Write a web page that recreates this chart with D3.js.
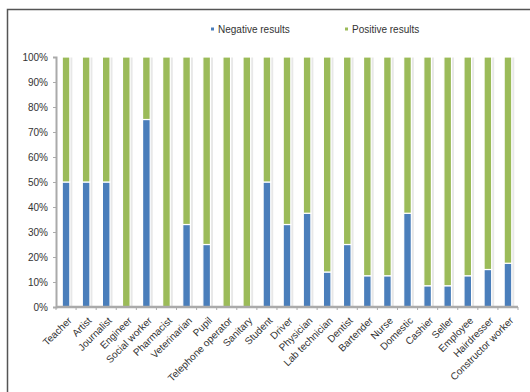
<!DOCTYPE html>
<html><head><meta charset="utf-8">
<script src="https://cdn.jsdelivr.net/npm/d3@7"></script>
<style>body{margin:0;background:#fff}svg{display:block;font-family:"Liberation Sans",Arial,sans-serif}</style>
</head><body><svg id="c" width="530" height="392"></svg>
<script>
const categories = ["Teacher","Artist","Journalist","Engineer","Social worker","Pharmacist","Veterinarian","Pupil","Telephone operator","Sanitary","Student","Driver","Physician","Lab technician","Dentist","Bartender","Nurse","Domestic","Cashier","Seller","Employee","Hairdresser","Constructor worker"];
const negative = [50,50,50,0,75,0,33,25,0,0,50,33,37.5,14,25,12.5,12.5,37.5,8.5,8.5,12.5,15,17.5];
const positive = negative.map(v => 100 - v);
const yTicks = [0,10,20,30,40,50,60,70,80,90,100];
const seriesNames = ["Negative results","Positive results"];
const colors = ["#4a7ebb","#9bbb59"];

const svg = d3.select("#c");
// frame
svg.append("path").attr("d","M7.5,392 V9.5 H530").attr("fill","none").attr("stroke","#555").attr("stroke-width",1.5);

const m = {l:56, r:518, t:57, b:307};
const x = d3.scaleBand().domain(categories).range([m.l, m.r]).paddingInner(0.62).paddingOuter(0.31);
const y = d3.scaleLinear().domain([0,100]).range([m.b, m.t]);

const data = categories.map((c,i)=>({c, neg:negative[i], pos:positive[i]}));
const g = svg.append("g");
const bw = x.bandwidth();
// shadows
g.selectAll("rect.sh").data(data).join("rect").attr("class","sh")
  .attr("x", d=>x(d.c)+1.5).attr("y", y(100)+0.5).attr("width", bw+1).attr("height", y(0)-y(100))
  .attr("fill","#e8e8e8");
// negative
g.selectAll("rect.neg").data(data).join("rect").attr("class","neg")
  .attr("x", d=>x(d.c)).attr("y", d=>y(d.neg)).attr("width", bw).attr("height", d=>y(0)-y(d.neg))
  .attr("fill", colors[0]).attr("stroke","#fff").attr("stroke-width",1.2);
// positive
g.selectAll("rect.pos").data(data).join("rect").attr("class","pos")
  .attr("x", d=>x(d.c)).attr("y", d=>y(100)).attr("width", bw).attr("height", d=>y(d.neg)-y(100))
  .attr("fill", colors[1]).attr("stroke","#fff").attr("stroke-width",1.2);

// y axis
const ya = svg.append("g").attr("transform",`translate(${m.l},0)`)
  .call(d3.axisLeft(y).tickValues(yTicks).tickFormat(d=>d+"%").tickSize(3).tickPadding(5));
ya.select(".domain").attr("stroke","#aaa").attr("stroke-width",2);
ya.selectAll(".tick line").attr("stroke","#aaa");
ya.selectAll("text").attr("font-size",10).attr("fill","#333").attr("font-family","Liberation Sans, Arial, sans-serif");

// x axis
const xa = svg.append("g").attr("transform",`translate(0,${m.b})`)
  .call(d3.axisBottom(x).tickSize(0).tickPadding(6));
xa.select(".domain").attr("stroke","#aaa").attr("stroke-width",2.5).attr("d",`M${m.l},0H${m.r}`);
xa.selectAll(".tick text").attr("font-size",10).attr("fill","#333").attr("font-family","Liberation Sans, Arial, sans-serif")
  .attr("text-anchor","end").attr("transform","translate(-3,5) rotate(-45)").attr("dy","0.7em").attr("dx","0");
// tick marks between categories
svg.append("g").selectAll("line").data(d3.range(categories.length+1)).join("line")
  .attr("x1", i=>m.l + i*(m.r-m.l)/categories.length).attr("x2", i=>m.l + i*(m.r-m.l)/categories.length)
  .attr("y1", m.b).attr("y2", m.b+3).attr("stroke","#aaa");

// legend
const lg = svg.append("g");
const lx = [211, 345];
seriesNames.forEach((n,i)=>{
  lg.append("rect").attr("x",lx[i]).attr("y",27.5).attr("width",3).attr("height",3).attr("fill",colors[i]);
  lg.append("text").attr("x",lx[i]+7).attr("y",32.5).attr("font-size",10).attr("fill","#333").text(n);
});
</script></body></html>
